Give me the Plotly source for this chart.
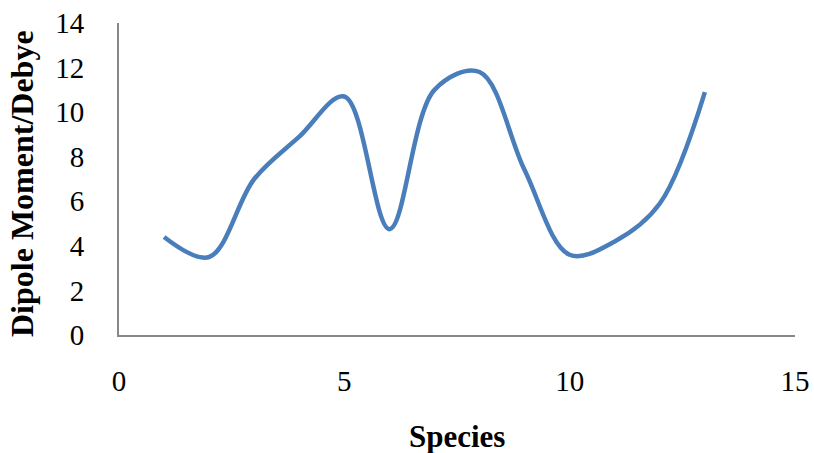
import plotly.graph_objects as go

species = [1, 2, 3, 4, 5, 6, 7, 8, 9, 10, 11, 12, 13]
dipole = [4.4, 3.5, 7.0, 8.9, 10.7, 4.75, 11.0, 11.8, 7.4, 3.6, 4.2, 5.9, 10.9]

x_ticks = [0, 5, 10, 15]
y_ticks = [0, 2, 4, 6, 8, 10, 12, 14]

fig = go.Figure()
fig.add_trace(go.Scatter(
    x=species, y=dipole, mode="lines",
    line=dict(color="#4A7EBB", width=4.5, shape="spline", smoothing=1.0),
    showlegend=False,
))

font_family = "Liberation Serif, Times New Roman, serif"
fig.update_layout(
    width=814, height=453,
    margin=dict(l=119, r=19, t=23, b=118),
    paper_bgcolor="white", plot_bgcolor="white",
    font=dict(family=font_family, size=29, color="black"),
)
fig.update_xaxes(
    range=[0, 15], tickvals=x_ticks, ticktext=[str(v) for v in x_ticks],
    showgrid=False, zeroline=False, showline=True, linecolor="#888888", linewidth=2,
    ticks="", ticklabelstandoff=19, automargin=False,
)
fig.update_yaxes(
    range=[0, 14], tickvals=y_ticks, ticktext=[str(v) for v in y_ticks],
    showgrid=False, zeroline=False, showline=True, linecolor="#888888", linewidth=2,
    ticks="", ticklabelstandoff=27, automargin=False,
)
fig.add_annotation(
    text="<b>Species</b>", xref="paper", yref="paper", x=0.5, y=0,
    xanchor="center", yanchor="middle", yshift=-101, showarrow=False,
    font=dict(size=31),
)
fig.add_annotation(
    text="<b>Dipole Moment/Debye</b>", xref="paper", yref="paper", x=0, y=0.5,
    xanchor="center", yanchor="middle", xshift=-97, yshift=-5, textangle=-90,
    showarrow=False, font=dict(size=32),
)
fig.write_html("out.html")
